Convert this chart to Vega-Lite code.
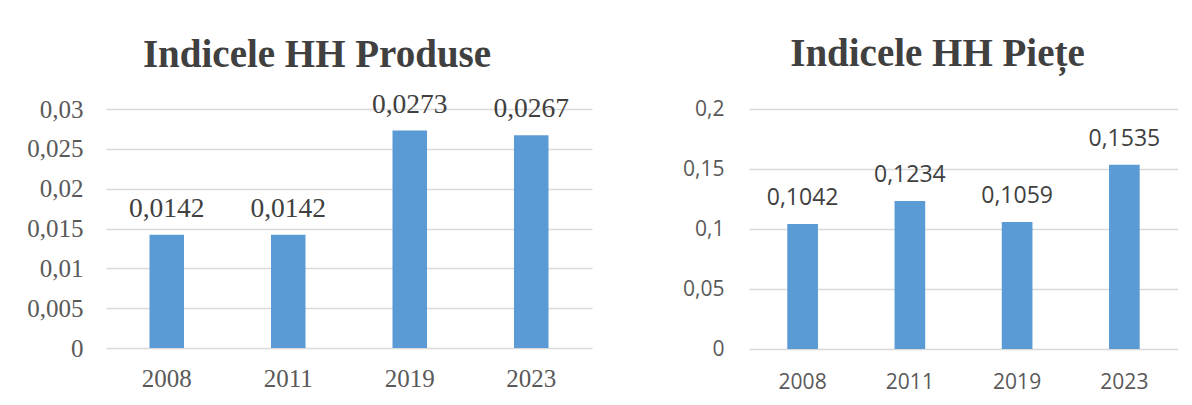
{
  "$schema": "https://vega.github.io/schema/vega-lite/v6.json",
  "padding": {"left": 26, "top": 35, "right": 0, "bottom": 8},
  "background": "white",
  "datasets": {
    "produse": [
      {"an": "2008", "valoare": 0.0142},
      {"an": "2011", "valoare": 0.0142},
      {"an": "2019", "valoare": 0.0273},
      {"an": "2023", "valoare": 0.0267}
    ],
    "piete": [
      {"an": "2008", "valoare": 0.1042},
      {"an": "2011", "valoare": 0.1234},
      {"an": "2019", "valoare": 0.1059},
      {"an": "2023", "valoare": 0.1535}
    ]
  },
  "config": {
    "locale": {"number": {"decimal": ",", "thousands": ".", "grouping": [3], "currency": ["", " lei"]}},
    "view": {"stroke": null},
    "axis": {"gridColor": "#d9d9d9", "gridWidth": 1.3, "domain": false, "ticks": false, "tickSize": 0, "labelColor": "#595959", "title": null}
  },
  "bounds": "flush",
  "spacing": 157,
  "hconcat": [
    {
      "width": 486,
      "height": 239,
      "title": {"text": "Indicele HH Produse", "font": "Liberation Serif", "fontSize": 39, "fontWeight": "bold", "color": "#404040", "dx": -32, "offset": 16},
      "data": {"name": "produse"},
      "encoding": {
        "x": {"field": "an", "type": "nominal", "sort": null, "scale": {"paddingInner": 0.716, "paddingOuter": 0.358},
          "axis": {"labelAngle": 0, "labelFont": "Liberation Serif", "labelFontSize": 25, "labelBaseline": "alphabetic", "labelPadding": 38, "grid": false}},
        "y": {"field": "valoare", "type": "quantitative", "scale": {"domain": [0, 0.03], "nice": false},
          "axis": {"values": [0, 0.005, 0.01, 0.015, 0.02, 0.025, 0.03], "format": "~g", "labelFont": "Liberation Serif", "labelFontSize": 25, "labelPadding": 23, "grid": true}}
      },
      "layer": [
        {"mark": {"type": "bar", "color": "#5b9bd5"}},
        {"mark": {"type": "text", "font": "Liberation Serif", "fontSize": 27.5, "color": "#404040", "baseline": "alphabetic", "dy": -18},
          "encoding": {"text": {"field": "valoare", "type": "quantitative", "format": "~g"}}}
      ]
    },
    {
      "width": 429,
      "height": 240,
      "title": {"text": "Indicele HH Piețe", "font": "Liberation Serif", "fontSize": 39, "fontWeight": "bold", "color": "#404040", "dx": -26, "offset": 24},
      "data": {"name": "piete"},
      "encoding": {
        "x": {"field": "an", "type": "nominal", "sort": null, "scale": {"paddingInner": 0.714, "paddingOuter": 0.357},
          "axis": {"labelAngle": 0, "labelFont": "Open Sans", "labelFontSize": 21, "labelBaseline": "alphabetic", "labelPadding": 39, "grid": false}},
        "y": {"field": "valoare", "type": "quantitative", "scale": {"domain": [0, 0.2], "nice": false},
          "axis": {"values": [0, 0.05, 0.1, 0.15, 0.2], "format": "~g", "labelFont": "Open Sans", "labelFontSize": 21, "labelPadding": 25, "grid": true}}
      },
      "layer": [
        {"mark": {"type": "bar", "color": "#5b9bd5"}},
        {"mark": {"type": "text", "font": "Open Sans", "fontSize": 23, "color": "#404040", "baseline": "alphabetic", "dy": -19},
          "encoding": {"text": {"field": "valoare", "type": "quantitative", "format": "~g"}}}
      ]
    }
  ]
}
